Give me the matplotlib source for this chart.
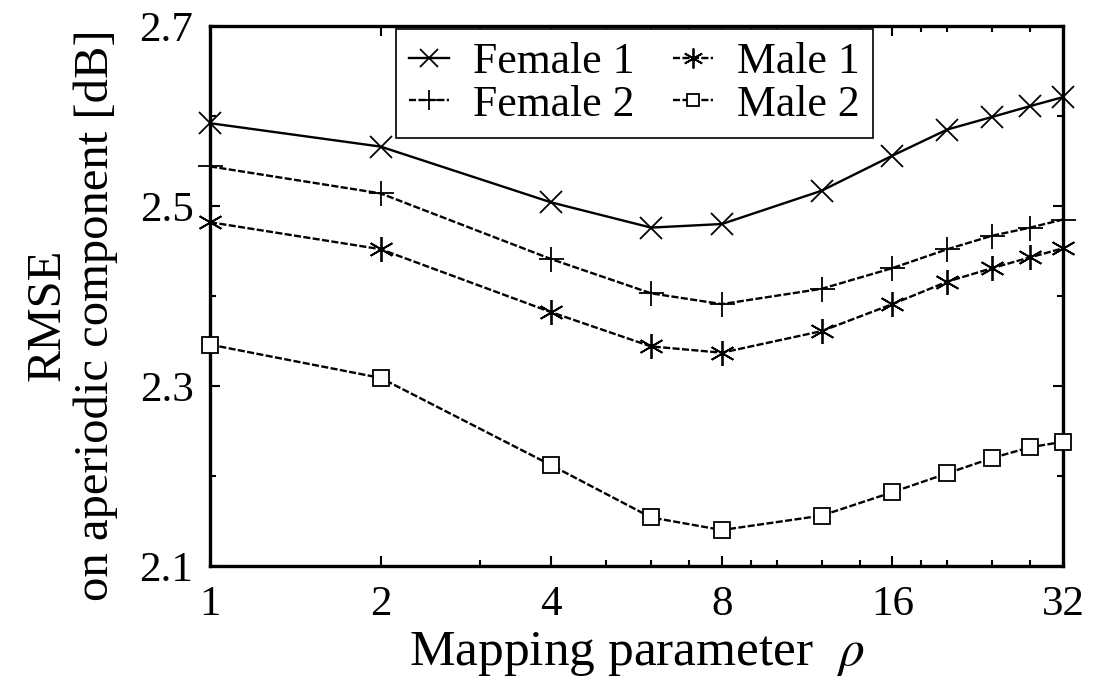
import matplotlib
matplotlib.use("Agg")
import matplotlib.pyplot as plt
from matplotlib.ticker import FixedLocator, NullFormatter

plt.rcParams.update({
    "font.family": ["Liberation Serif", "DejaVu Serif"],
    "mathtext.fontset": "stix",
    "font.size": 30,
})

# -----------------------------
# Data
# -----------------------------
rho = [1, 2, 4, 6, 8, 12, 16, 20, 24, 28, 32]
female1 = [2.592, 2.566, 2.504, 2.476, 2.480, 2.517, 2.556, 2.585, 2.599, 2.611, 2.621]
female2 = [2.544, 2.514, 2.441, 2.403, 2.391, 2.408, 2.431, 2.452, 2.467, 2.476, 2.485]
male1 = [2.482, 2.452, 2.382, 2.344, 2.337, 2.361, 2.391, 2.416, 2.431, 2.443, 2.453]
male2 = [2.346, 2.309, 2.212, 2.154, 2.140, 2.156, 2.182, 2.203, 2.220, 2.232, 2.238]

x_major = [1, 2, 4, 8, 16, 32]
x_minor = [3, 5, 6, 7, 9, 10, 12, 14, 18, 20, 24, 28]
y_major = [2.1, 2.3, 2.5, 2.7]
y_minor = [2.2, 2.4, 2.6]

# -----------------------------
# Plot
# -----------------------------
fig = plt.figure(figsize=(10.94, 6.88), dpi=100)
ax = fig.add_axes([0.192, 0.1773, 0.7797, 0.7849])

dash = (0, (3, 1))
series = [
    ("Female 1", female1, "x", "-", 16, "none"),
    ("Female 2", female2, "+", dash, 18, "none"),
    ("Male 1", male1, (6, 2, 0), dash, 18, "none"),
    ("Male 2", male2, "s", dash, 11, "white"),
]

handles = {}
for name, vals, marker, ls, ms, mfc in series:
    h, = ax.plot(rho, vals, color="black", linestyle=ls, linewidth=1.7,
                 marker=marker, markersize=ms, markerfacecolor=mfc,
                 markeredgecolor="black", markeredgewidth=1.3,
                 clip_on=False, zorder=3, label=name)
    handles[name] = h

ax.set_xscale("log", base=2)
ax.set_xlim(1, 32)
ax.set_ylim(2.1, 2.7)

ax.xaxis.set_major_locator(FixedLocator(x_major))
ax.xaxis.set_minor_locator(FixedLocator(x_minor))
ax.xaxis.set_minor_formatter(NullFormatter())
ax.set_xticklabels([str(v) for v in x_major])
ax.yaxis.set_major_locator(FixedLocator(y_major))
ax.yaxis.set_minor_locator(FixedLocator(y_minor))
ax.set_yticklabels([f"{v:.1f}" for v in y_major])

ax.tick_params(which="both", direction="in", top=True, right=True,
               width=1.5, labelsize=31)
ax.tick_params(which="major", length=7)
ax.tick_params(which="minor", length=4)
ax.tick_params(axis="x", which="major", pad=14)
ax.tick_params(axis="y", which="major", pad=12)

for sp in ax.spines.values():
    sp.set_linewidth(2.4)

ax.set_xlabel(r"Mapping parameter  $\rho$", fontsize=37, labelpad=4)
ax.set_ylabel("RMSE\non aperiodic component [dB]", fontsize=35,
              linespacing=1.1)
ax.yaxis.set_label_coords(-0.108, 0.465)

# -----------------------------
# Legend (2 columns, top)
# -----------------------------
order = ["Female 1", "Female 2", "Male 1", "Male 2"]
leg = ax.legend([handles[k] for k in order], order, ncol=2,
                loc="upper left", bbox_to_anchor=(0.218, 0.994),
                borderaxespad=0, fancybox=False, framealpha=1,
                edgecolor="black", fontsize=31.5, handlelength=0.9,
                handletextpad=0.55, columnspacing=0.9, borderpad=0.3,
                labelspacing=0.05, markerscale=0.8)
leg.get_frame().set_linewidth(1.2)

fig.savefig("out.png", dpi=100)
